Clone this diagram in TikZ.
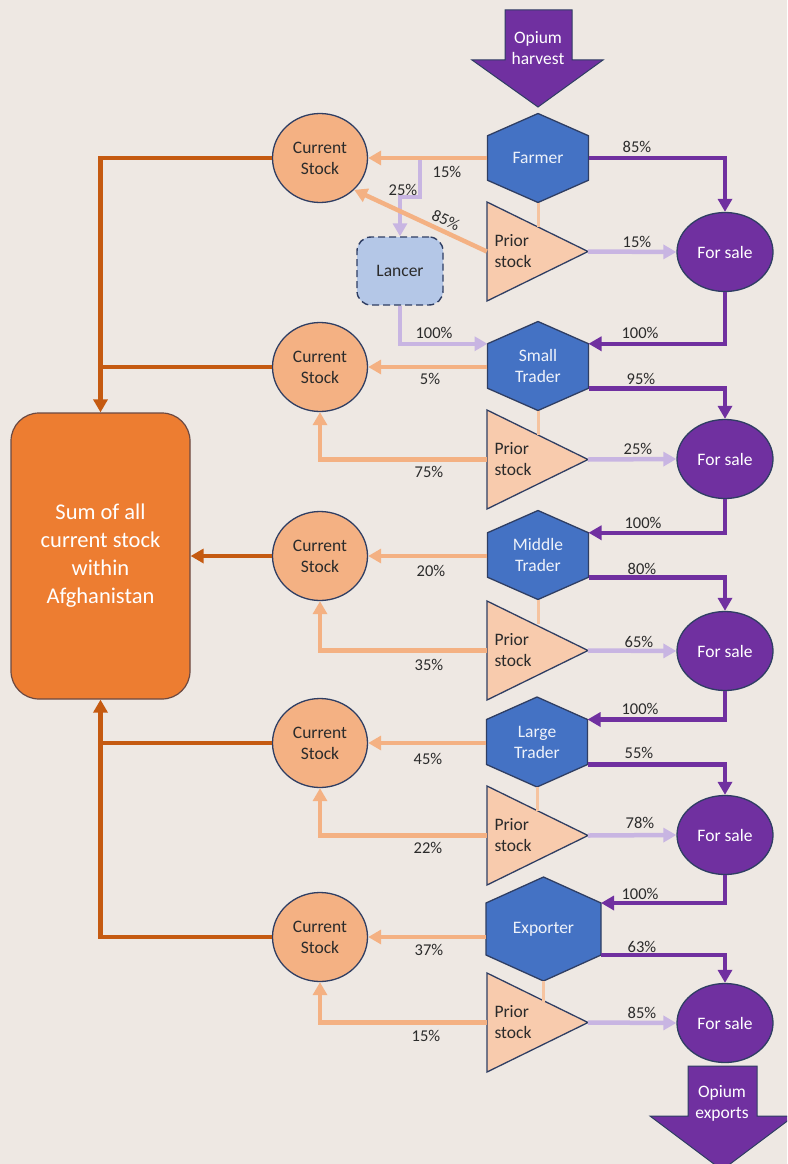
\documentclass[tikz,border=0pt]{standalone}
\usepackage{fontspec}
\setmainfont{Carlito}
\usetikzlibrary{shapes.geometric,arrows.meta,calc}
\definecolor{bg}{HTML}{EEE8E3}
\definecolor{hexblue}{HTML}{4472C4}
\definecolor{navy}{HTML}{2F3E63}
\definecolor{cstockc}{HTML}{F4B183}
\definecolor{pstockc}{HTML}{F8CBAD}
\definecolor{salec}{HTML}{7030A0}
\definecolor{sumor}{HTML}{ED7D31}
\definecolor{sumln}{HTML}{C55A11}
\definecolor{peach}{HTML}{F4B183}
\definecolor{lav}{HTML}{C8B5E2}
\definecolor{lancerc}{HTML}{B4C7E7}
\definecolor{lbl}{HTML}{2B2B2B}
\definecolor{peachthin}{HTML}{F6C4A0}
\definecolor{hextext}{HTML}{EEF2FA}
\tikzset{
 >={Triangle[length=13pt,width=14pt]},
 conn/.style={line width=4.5pt},
 peachc/.style={conn,draw=peach},
 lavc/.style={conn,draw=lav},
 purc/.style={conn,draw=salec},
 sumc/.style={conn,draw=sumln},
 pct/.style={font=\fontsize{16.5}{19}\selectfont, text=lbl, inner sep=0pt},
 cstock/.style={ellipse, draw=navy, line width=1.3pt, fill=cstockc, minimum width=95pt, minimum height=89pt, inner sep=0pt, align=center, font=\fontsize{17.5}{21}\selectfont, text=lbl},
 forsale/.style={ellipse, draw=navy, line width=1.3pt, fill=salec, minimum width=96pt, minimum height=79pt, inner sep=0pt, text=white, font=\fontsize{17.5}{21}\selectfont},
 hexbox/.style={rectangle, draw=none, inner sep=0pt, align=center, text=hextext, font=\fontsize{17.5}{21}\selectfont},
 hexshape/.style={fill=hexblue, draw=navy, line width=1.3pt},
 trishape/.style={fill=pstockc, draw=navy, line width=1.3pt},
 ptext/.style={inner sep=0pt, align=left, text=lbl, font=\fontsize{17.5}{21}\selectfont},
 arrshape/.style={fill=salec, draw=navy, line width=1pt},
 arrtext/.style={inner sep=0pt, align=center, text=white, font=\fontsize{17.5}{21}\selectfont},
 sumbox/.style={rectangle, rounded corners=28pt, draw=navy!60!sumln, line width=1.2pt, fill=sumor, minimum width=179pt, minimum height=286pt, align=center, text=white, font=\fontsize{22.5}{28}\selectfont},
 lancerbox/.style={rectangle, rounded corners=14pt, dash pattern=on 7pt off 4pt, draw=navy, line width=1.4pt, fill=lancerc, minimum width=86pt, minimum height=68pt, text=lbl, font=\fontsize{17.5}{21}\selectfont},
 thinlink/.style={line width=3pt, draw=peachthin}
}
% hexagon: name, cx, cy, w, h, text
\newcommand\hexag[6]{%
 \path[hexshape] (#2,#3-#5/2) -- (#2+#4/2,#3-#5/4) -- (#2+#4/2,#3+#5/4) -- (#2,#3+#5/2) -- (#2-#4/2,#3+#5/4) -- (#2-#4/2,#3-#5/4) -- cycle;
 \node[hexbox, minimum width=#4pt, minimum height=#5pt] (#1) at (#2,#3) {#6};
 \coordinate (#1-ur) at (#2+#4/2,#3-#5/4);
 \coordinate (#1-lr) at (#2+#4/2,#3+#5/4);
 \coordinate (#1-ul) at (#2-#4/2,#3-#5/4);
}
% prior stock triangle: name, top y
\newcommand\prior[2]{%
 \path[trishape] (487,#2) -- (588,#2+49.5) -- (487,#2+99) -- cycle;
 \node[inner sep=0pt, minimum width=101pt, minimum height=99pt] (#1) at (537.5,#2+49.5) {};
 \node[ptext] (#1t) at (513,#2+49.5) {Prior\\stock};
}
\begin{document}
\begin{tikzpicture}[x=1pt,y=-1pt]
\useasboundingbox (0,0) rectangle (787,1164);
\clip (0,0) rectangle (787,1164);
\fill[bg] (0,0) rectangle (787,1164);

% opium harvest arrow
\path[arrshape] (505,10) -- (572,10) -- (572,60) -- (603,60) -- (538,107) -- (472,60) -- (505,60) -- cycle;
\node[arrtext] (harv) at (538,48) {Opium\\harvest};
% opium exports arrow
\path[arrshape] (688,1066) -- (757,1066) -- (757,1116) -- (794,1116) -- (722,1170) -- (650,1116) -- (688,1116) -- cycle;
\node[arrtext] (expo) at (722,1103) {Opium\\exports};

% hexagons
\hexag{F1}{538}{158}{101}{89}{Farmer}
\hexag{ST}{538}{366}{101}{89}{Small\\Trader}
\hexag{MT}{538}{555}{101}{89}{Middle\\Trader}
\hexag{LT}{537}{742}{101}{90}{Large\\Trader}
\hexag{EX}{543.5}{929}{115}{104}{Exporter}

% triangles
\prior{P1}{202}
\prior{P2}{410}
\prior{P3}{601}
\prior{P4}{786}
\prior{P5}{973}

% thin links hexagon -> triangle
\draw[thinlink] (F1.south) -- ++(0,24);
\draw[thinlink] (ST.south) -- ++(0,24);
\draw[thinlink] (MT.south) -- ++(0,24);
\draw[thinlink] (LT.south) -- ++(0,24);
\draw[thinlink] (EX.south) -- ++(0,21);

% current stock circles
\node[cstock] (CS1) at (320,158) {Current\\Stock};
\node[cstock] (CS2) at (320,367) {Current\\Stock};
\node[cstock] (CS3) at (320,556) {Current\\Stock};
\node[cstock] (CS4) at (320,743) {Current\\Stock};
\node[cstock] (CS5) at (320,937) {Current\\Stock};

% for sale circles
\node[forsale] (FS1) at (725,252) {For sale};
\node[forsale] (FS2) at (725,459) {For sale};
\node[forsale] (FS3) at (725,651) {For sale};
\node[forsale] (FS4) at (725,835) {For sale};
\node[forsale] (FS5) at (725,1023) {For sale};

% lancer and sum box
\node[lancerbox] (L) at (400,271) {Lancer};
\node[sumbox] (S) at (100.5,556) {Sum of all\\current stock\\within\\Afghanistan};

% ---- row 1
\coordinate (lb) at (420,160);
\draw[lavc,->] (lb) -- (420,197) -| (L.north);
\draw[peachc,->] (CS1.east -| F1.west) -- (CS1.east);
\draw[peachc,->] (P1.west) -- (CS1.-43);
\draw[purc,->] (F1.east) -| (FS1.north);
\draw[lavc,->] (P1.east) -- (FS1.west);
\draw[purc,->] (FS1.south) |- (ST-ur);
\draw[lavc,->] (L.south) |- (ST-ul);
\node[pct] (l1a) at (447,172) {15\%};
\node[pct] (l1b) at (403,190) {25\%};
\node[pct, rotate=-24] (l1c) at (446,220) {85\%};
\node[pct] (l1d) at (637,147) {85\%};
\node[pct] (l1e) at (637,242) {15\%};
\node[pct] (l1f) at (640,333) {100\%};
\node[pct] (l1g) at (434,333) {100\%};

% ---- row 2
\draw[peachc,->] (CS2.east -| ST.west) -- (CS2.east);
\draw[peachc,->] (P2.west) -| (CS2.south);
\draw[lavc,->] (P2.east) -- (FS2.west);
\draw[purc,->] (ST-lr) -| (FS2.north);
\draw[purc,->] (FS2.south) |- (MT-ur);
\node[pct] (l2a) at (430,379) {5\%};
\node[pct] (l2b) at (429,472) {75\%};
\node[pct] (l2c) at (638,449) {25\%};
\node[pct] (l2d) at (641,379) {95\%};
\node[pct] (l2e) at (643,523) {100\%};

% ---- row 3
\draw[peachc,->] (CS3.east -| MT.west) -- (CS3.east);
\draw[peachc,->] (P3.west) -| (CS3.south);
\draw[lavc,->] (P3.east) -- (FS3.west);
\draw[purc,->] (MT-lr) -| (FS3.north);
\draw[purc,->] (FS3.south) |- (LT-ur);
\node[pct] (l3a) at (431,571) {20\%};
\node[pct] (l3b) at (429,665) {35\%};
\node[pct] (l3c) at (639,642) {65\%};
\node[pct] (l3d) at (642,569) {80\%};
\node[pct] (l3e) at (640,709) {100\%};

% ---- row 4
\draw[peachc,->] (CS4.east -| LT.west) -- (CS4.east);
\draw[peachc,->] (P4.west) -| (CS4.south);
\draw[lavc,->] (P4.east) -- (FS4.west);
\draw[purc,->] (LT-lr) -| (FS4.north);
\draw[purc,->] (FS4.south) |- (EX-ur);
\node[pct] (l4a) at (428,759) {45\%};
\node[pct] (l4b) at (428,848) {22\%};
\node[pct] (l4c) at (640,823) {78\%};
\node[pct] (l4d) at (639,753) {55\%};
\node[pct] (l4e) at (640,894) {100\%};

% ---- row 5
\draw[peachc,->] (CS5.east -| EX.west) -- (CS5.east);
\draw[peachc,->] (P5.west) -| (CS5.south);
\draw[lavc,->] (P5.east) -- (FS5.west);
\draw[purc,->] (EX-lr) -| (FS5.north);
\node[pct] (l5a) at (429,950) {37\%};
\node[pct] (l5b) at (426,1036) {15\%};
\node[pct] (l5c) at (642,1013) {85\%};
\node[pct] (l5d) at (642,947) {63\%};

% ---- sums
\draw[sumc,->] (CS1.west) -| (S.north);
\draw[sumc] (CS2.west) -- (CS2.west -| S.north);
\draw[sumc,->] (CS3.west) -- (S.east);
\draw[sumc,->] (CS5.west) -| (S.south);
\draw[sumc] (CS4.west) -- (CS4.west -| S.south);
\end{tikzpicture}
\end{document}
